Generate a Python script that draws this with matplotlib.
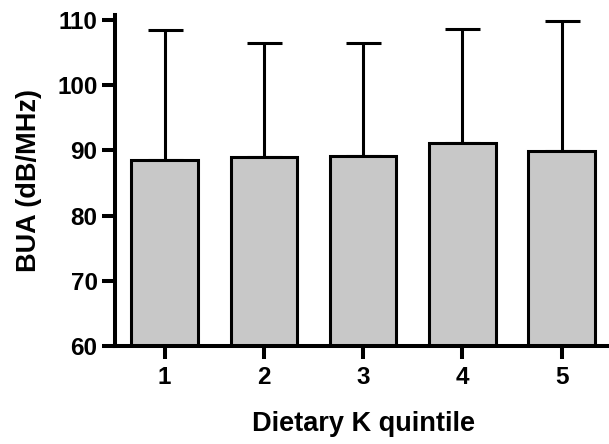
import numpy as np
import matplotlib
matplotlib.use("Agg")
import matplotlib.pyplot as plt

# Werte
quintiles = ["1", "2", "3", "4", "5"]
bua_mean = [88.5, 89.0, 89.2, 91.2, 89.9]   # dB/MHz
bua_sd = [19.95, 17.5, 17.2, 17.45, 19.95]   # nur nach oben
yticks = [60, 70, 80, 90, 100, 110]

plt.rcParams["font.family"] = ["Liberation Sans", "DejaVu Sans"]
plt.rcParams["font.weight"] = "bold"

fig = plt.figure(figsize=(6.09, 4.44), dpi=100)
ax = fig.add_axes([0.1888, 0.2207, 0.815, 0.7455])

x = np.arange(1, len(quintiles) + 1)
ax.errorbar(x, bua_mean, yerr=[np.zeros(len(bua_sd)), bua_sd], fmt="none",
            ecolor="black", elinewidth=2.2, capsize=12.6, capthick=2.2, zorder=1)
ax.bar(x, bua_mean, width=0.67, color="#c8c8c8", edgecolor="black",
       linewidth=2.2, zorder=2)

ax.set_xlim(0.5, 5.5)
ax.set_ylim(60, 110.77)
ax.set_xticks(x)
ax.set_xticklabels(quintiles)
ax.set_yticks(yticks)

for s in ["top", "right"]:
    ax.spines[s].set_visible(False)
for s in ["left", "bottom"]:
    ax.spines[s].set_linewidth(2.9)
    ax.spines[s].set_zorder(3)

ax.tick_params(axis="both", width=2.9, length=9.5, labelsize=17.5)
ax.tick_params(axis="x", pad=5)
ax.tick_params(axis="y", pad=3)

ax.set_xlabel("Dietary K quintile", fontsize=19.5, fontweight="bold", labelpad=16)
ax.set_ylabel("BUA (dB/MHz)", fontsize=19.5, fontweight="bold", labelpad=11)

fig.savefig("out.png", dpi=100)
